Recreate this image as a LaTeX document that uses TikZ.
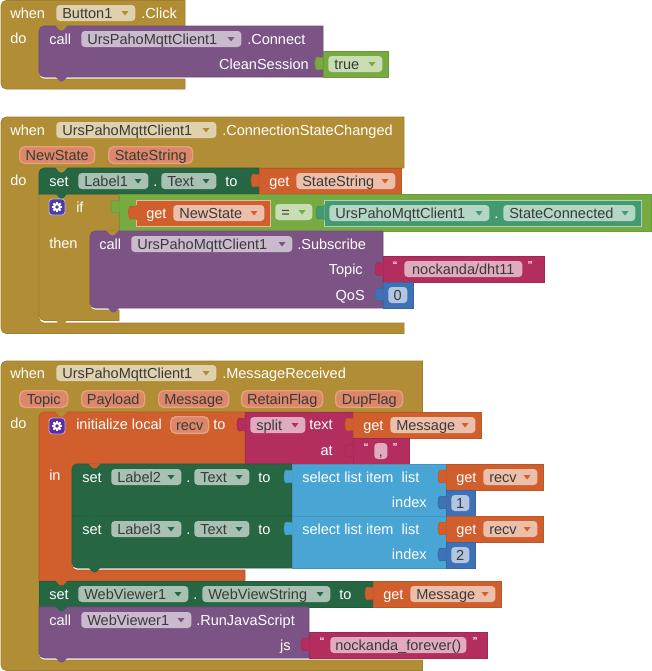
\documentclass[tikz,border=0pt]{standalone}
\usepackage{fontspec}
\setmainfont{Liberation Sans}
\usetikzlibrary{calc}
\definecolor{goldblk}{HTML}{B18E35}
\definecolor{purpleblk}{HTML}{7C5385}
\definecolor{setgreen}{HTML}{266643}
\definecolor{orangeblk}{HTML}{D05F2D}
\definecolor{pinkblk}{HTML}{B32D5E}
\definecolor{listblue}{HTML}{49A6D4}
\definecolor{mathblue}{HTML}{3F71B5}
\definecolor{logicgreen}{HTML}{77AB41}
\definecolor{tealblk}{HTML}{439970}
\definecolor{gearblue}{HTML}{4A3FA8}
\definecolor{gearpurple}{HTML}{5B2CA6}
\definecolor{paramfill}{HTML}{DC8769}
\definecolor{paramedge}{HTML}{E6A07F}
\definecolor{textdark}{HTML}{3A3A3A}
\tikzset{
	blk/.style={fill=#1,draw=#1!90!black,line width=0.4pt},
	rimblk/.style={fill=#1,draw=white!55!#1,line width=0.5pt},
	lbl/.style={text=white,inner sep=0pt,anchor=west,text height=9.5pt,text depth=2pt,font=\fontsize{10.9}{12}\selectfont},
	lblr/.style={lbl,anchor=east},
	chip/.style={fill=white,fill opacity=0.6,text opacity=1,text=textdark,rounded corners=2.6pt,anchor=west,inner xsep=4.5pt,inner ysep=0.25pt,text height=9.5pt,text depth=2pt,font=\fontsize{10.9}{12}\selectfont},
	param/.style={fill=paramfill,draw=paramedge,line width=1.1pt,text=textdark,rounded corners=3.75pt,anchor=west,inner ysep=0pt,inner xsep=0pt,minimum height=12.4pt,text height=9.5pt,text depth=2pt,font=\fontsize{10.9}{12}\selectfont},
	quot/.style={text=white,inner sep=0pt,font=\fontsize{7.5}{8}\selectfont\bfseries},
}
% dropdown field: name, x, y centre, width, text, arrow colour
\newcommand{\dropchip}[6]{%
	\pgfmathsetlengthmacro{\chipw}{(#4-12)*0.75}%
	\node[chip] (#1) at (#2,#3) {\makebox[\chipw][l]{#5}};
	\fill[#6] ($(#1.east)+(-14,-2)$) -- ++(7,0) -- ++(-3.5,4.5) -- cycle;
}
% plain field without arrow: name, x, y centre, width, text
\newcommand{\textchip}[5]{%
	\pgfmathsetlengthmacro{\chipw}{(#4-12)*0.75}%
	\node[chip] (#1) at (#2,#3) {\makebox[\chipw][c]{#5}};
}
% parameter chip: name, x, y centre, width, text
\newcommand{\paramchip}[5]{%
	\pgfmathsetlengthmacro{\chipw}{#4*0.75}%
	\node[param] (#1) at (#2,#3) {\makebox[\chipw][c]{#5}};
}
% left puzzle tab of a value block: x, block top, colour
\newcommand{\valtab}[3]{%
	\draw[blk=#3,shift={(#1,#2)}] (0.6,5) .. controls (-0.5,9) and (-3,5) .. (-6,6) .. controls (-8.7,7) and (-8.7,18) .. (-6,19) .. controls (-3,20) and (-0.5,16) .. (0.6,20);
}
% statement bump: x, y, colour
\newcommand{\stmtbump}[3]{%
	\fill[#3,shift={(#1,#2)}] (0,-0.6) .. controls (2,0) and (3.5,4.5) .. (6.5,4.5) .. controls (9.5,4.5) and (11,0) .. (13,-0.6) -- cycle;
}
% mutator gear: x, y, colour
\newcommand{\gearicon}[3]{%
	\draw[fill=#3,draw=white!60!#3,line width=0.6pt,rounded corners=2.5pt] (#1,#2) rectangle ++(16,16);
	\foreach \a in {0,45,...,135} \draw[white,line width=1.5pt,shift={(#1+8,#2+8)},rotate=\a] (-5,0) -- (5,0);
	\fill[white] (#1+8,#2+8) circle (3pt);
	\fill[#3] (#1+8,#2+8) circle (1.4pt);
}
\begin{document}
\begin{tikzpicture}[x=0.75pt,y=0.75pt,yscale=-1,xscale=1]
	\path[use as bounding box,fill=white] (0,0) rectangle (652,671);
	
	%Shape: Button click event
	\draw[blk=goldblk] (185,0.5) [rounded corners=3.75pt] -- (1,0.5) -- (1,89) [sharp corners] -- (185,89) -- (185,79) [rounded corners=3.75pt] -- (39,79) -- (39,26) [sharp corners] -- (185,26) -- cycle;
	\draw[blk=purpleblk] (323,26) [rounded corners=3.75pt] -- (39,26) -- (39,77) [sharp corners] -- (323,77) -- cycle;
	\valtab{323}{51}{logicgreen}
	\draw[blk=logicgreen] (323,51) rectangle (388,77);
	\stmtbump{55}{26}{goldblk}
	\stmtbump{55}{77}{purpleblk}
	% Text Node
	\node[lbl] (when1) at (10,13) {when};
	\dropchip{button1}{56}{13}{79}{Button1}{goldblk}
	\node[lbl] (click1) at (141,13) {.Click};
	\node[lbl] (do1) at (10,38) {do};
	\node[lbl] (call1) at (49,39) {call};
	\dropchip{client1}{81}{39}{160}{UrsPahoMqttClient1}{purpleblk}
	\node[lbl] (connect1) at (247,39) {.Connect};
	\node[lblr] (clean1) at (309,64) {CleanSession};
	\dropchip{true1}{328}{64}{54}{true}{logicgreen}
	
	%Shape: Connection state event
	\draw[blk=goldblk] (404,117) [rounded corners=3.75pt] -- (1,117) -- (1,333.5) [sharp corners] -- (404,333.5) -- (404,323) [rounded corners=3.75pt] -- (39,323) -- (39,168) [sharp corners] -- (404,168) -- cycle;
	\draw[blk=goldblk] (119,194) -- (39,194) [rounded corners=3.75pt] -- (39,320.5) [sharp corners] -- (119,320.5) -- (119,310) [rounded corners=3.75pt] -- (90,310) -- (90,231) [sharp corners] -- (119,231) -- cycle;
	\draw[blk=setgreen] (259,168) [rounded corners=3.75pt] -- (39,168) [sharp corners] -- (39,194) -- (259,194) -- cycle;
	\draw[blk=orangeblk] (259,168) rectangle (401,194);
	\valtab{259}{168}{orangeblk}
	\draw[blk=logicgreen] (119,194) rectangle (651.5,231);
	\valtab{119}{194}{logicgreen}
	\draw[rimblk=orangeblk] (136.5,200) rectangle (270,226);
	\valtab{136.5}{200}{orangeblk}
	\draw[rimblk=tealblk] (324,200) rectangle (641,226);
	\valtab{324}{200}{tealblk}
	\draw[blk=purpleblk] (383,231) [rounded corners=3.75pt] -- (90,231) -- (90,308) [sharp corners] -- (383,308) -- cycle;
	\draw[blk=pinkblk] (383,256.5) rectangle (544,282);
	\valtab{383}{256.5}{pinkblk}
	\draw[blk=mathblue] (383,282) rectangle (413,308);
	\valtab{383}{282}{mathblue}
	\stmtbump{55}{168}{goldblk}
	\stmtbump{55}{194}{setgreen}
	\stmtbump{55}{320.5}{goldblk}
	\stmtbump{106}{231}{goldblk}
	\stmtbump{107}{308}{purpleblk}
	\gearicon{49}{199}{gearblue}
	% Text Node
	\node[lbl] (when2) at (10,130) {when};
	\dropchip{client2}{56}{130}{160}{UrsPahoMqttClient1}{goldblk}
	\node[lbl] (changed2) at (222,130) {.ConnectionStateChanged};
	\paramchip{newstate}{19}{155}{75}{NewState}
	\paramchip{statestring}{108}{155}{84}{StateString}
	\node[lbl] (do2) at (10,180) {do};
	\node[lbl] (set2) at (49,181) {set};
	\dropchip{label1}{78}{181}{70}{Label1}{setgreen}
	\node[lbl] (dot2) at (153,181) {.};
	\dropchip{text1}{161}{181}{55}{Text}{setgreen}
	\node[lbl] (to2) at (225,181) {to};
	\node[lbl] (get2) at (269,181) {get};
	\dropchip{getstate}{296}{181}{99}{StateString}{orangeblk}
	\node[lbl] (if2) at (76,207) {if};
	\node[lbl] (get3) at (146,213) {get};
	\dropchip{getnew}{173}{213}{91}{NewState}{orangeblk}
	\dropchip{equals}{275}{212}{37}{=}{logicgreen}
	\dropchip{client3}{329}{213}{160}{UrsPahoMqttClient1}{tealblk}
	\node[lbl] (dot3) at (494,213) {.};
	\dropchip{connected}{503}{213}{132}{StateConnected}{tealblk}
	\node[lbl] (then2) at (49,243) {then};
	\node[lbl] (call2) at (99,244) {call};
	\dropchip{client4}{131}{244}{161}{UrsPahoMqttClient1}{purpleblk}
	\node[lbl] (subscribe) at (297,244) {.Subscribe};
	\node[lblr] (topic2) at (363,269) {Topic};
	\node[lblr] (qos2) at (365,295) {QoS};
	\node[quot] (open2) at (395,265) {“};
	\textchip{topicval}{404}{269}{118}{nockanda/dht11}
	\node[quot] (close2) at (530,265) {”};
	\textchip{qosval}{388}{295}{19}{0}
	
	%Shape: Message event
	\draw[blk=goldblk] (422.5,361) [rounded corners=3.75pt] -- (1,361) -- (1,670.5) [sharp corners] -- (422.5,670.5) -- (422.5,660) [rounded corners=3.75pt] -- (39,660) -- (39,412) [sharp corners] -- (422.5,412) -- cycle;
	\draw[blk=orangeblk] (245,412) [rounded corners=3.75pt] -- (39,412) [sharp corners] -- (39,581) -- (245,581) -- (245,570) [rounded corners=3.75pt] -- (72,570) -- (72,464) [sharp corners] -- (245,464) -- cycle;
	\draw[blk=pinkblk] (245,412) rectangle (353,464);
	\valtab{245}{412}{pinkblk}
	\draw[blk=orangeblk] (353,412) rectangle (481,438);
	\valtab{353}{412}{orangeblk}
	\draw[blk=pinkblk] (353,438) rectangle (409,464);
	\valtab{353}{438}{pinkblk}
	\draw[blk=setgreen] (292,464) [rounded corners=3.75pt] -- (72,464) [sharp corners] -- (72,516) -- (292,516) -- cycle;
	\draw[blk=setgreen] (292,516) -- (72,516) [rounded corners=3.75pt] -- (72,568) [sharp corners] -- (292,568) -- cycle;
	\draw[blk=listblue] (292,464) rectangle (446,516);
	\valtab{292}{464}{listblue}
	\draw[blk=listblue] (292,516) rectangle (446,568);
	\valtab{292}{516}{listblue}
	\foreach \rowy in {464,516} {
		\draw[blk=orangeblk] (446,\rowy) rectangle (543,\rowy+26);
		\valtab{446}{\rowy}{orangeblk}
		\draw[blk=mathblue] (446,\rowy+26) rectangle (475,\rowy+52);
		\valtab{446}{\rowy+26}{mathblue}
	}
	\draw[blk=setgreen] (39,581) -- (373,581) -- (373,607) -- (39,607) -- cycle;
	\draw[blk=orangeblk] (373,581) rectangle (501,607);
	\valtab{373}{581}{orangeblk}
	\draw[blk=purpleblk] (39,607) [rounded corners=3.75pt] -- (39,658) [sharp corners] -- (309,658) -- (309,607) -- cycle;
	\draw[blk=pinkblk] (309,632) rectangle (487,658);
	\valtab{309}{632}{pinkblk}
	\stmtbump{55}{412}{goldblk}
	\stmtbump{88}{464}{orangeblk}
	\stmtbump{88}{516}{setgreen}
	\stmtbump{88}{568}{setgreen}
	\stmtbump{55}{581}{orangeblk}
	\stmtbump{55}{607}{setgreen}
	\stmtbump{55}{658}{purpleblk}
	\gearicon{49}{418}{gearpurple}
	% Text Node
	\node[lbl] (when3) at (10,373) {when};
	\dropchip{client5}{56}{373}{160}{UrsPahoMqttClient1}{goldblk}
	\node[lbl] (received) at (222,373) {.MessageReceived};
	\paramchip{topic3}{19}{399}{48}{Topic}
	\paramchip{payload}{81}{399}{63}{Payload}
	\paramchip{message}{158}{399}{70}{Message}
	\paramchip{retain}{241}{399}{81}{RetainFlag}
	\paramchip{dup}{335}{399}{67}{DupFlag}
	\node[lbl] (do3) at (10,423) {do};
	\node[lbl] (init) at (76,424) {initialize local};
	\paramchip{recv}{170}{425}{38}{recv}
	\node[lbl] (to3) at (213,424) {to};
	\dropchip{split}{250}{425}{55}{split}{pinkblk}
	\node[lbl] (textlbl) at (309,424) {text};
	\node[lbl] (get4) at (363,425) {get};
	\dropchip{getmsg}{390}{425}{85}{Message}{orangeblk}
	\node[lblr] (atlbl) at (333,450) {at};
	\node[quot] (open3) at (366,447) {“};
	\textchip{comma}{374}{451}{13}{,}
	\node[quot] (close3) at (395,447) {”};
	\node[lbl] (in3) at (49,475) {in};
	\foreach \num/\rowy/\idx in {2/464/1,3/516/2} {
		\node[lbl] (set\num) at (82,\rowy+13) {set};
		\dropchip{label\num}{111}{\rowy+13}{70}{Label\num}{setgreen}
		\node[lbl] (dot\num b) at (186,\rowy+13) {.};
		\dropchip{text\num}{194}{\rowy+13}{55}{Text}{setgreen}
		\node[lbl] (to\num b) at (258,\rowy+13) {to};
		\node[lbl] (select\num) at (302,\rowy+13) {select list item\ \ list};
		\node[lblr] (index\num) at (427,\rowy+38) {index};
		\node[lbl] (get\num b) at (456,\rowy+13) {get};
		\dropchip{getrecv\num}{483}{\rowy+13}{54}{recv}{orangeblk}
		\textchip{idxval\num}{451}{\rowy+39}{18}{\idx}
	}
	\node[lbl] (set4) at (49,594) {set};
	\dropchip{viewer1}{78}{594}{110}{WebViewer1}{setgreen}
	\node[lbl] (dot4) at (193,594) {.};
	\dropchip{viewstring}{202}{594}{128}{WebViewString}{setgreen}
	\node[lbl] (to4) at (339,594) {to};
	\node[lbl] (get5) at (383,594) {get};
	\dropchip{getmsg2}{410}{594}{85}{Message}{orangeblk}
	\node[lbl] (call3) at (49,620) {call};
	\dropchip{viewer2}{81}{620}{110}{WebViewer1}{purpleblk}
	\node[lbl] (runjs) at (196,620) {.RunJavaScript};
	\node[lblr] (jslbl) at (291,645) {js};
	\node[quot] (open4) at (322,641) {“};
	\textchip{jsval}{330}{645}{136}{nockanda\_forever()}
	\node[quot] (close4) at (475,641) {”};
\end{tikzpicture}
\end{document}
